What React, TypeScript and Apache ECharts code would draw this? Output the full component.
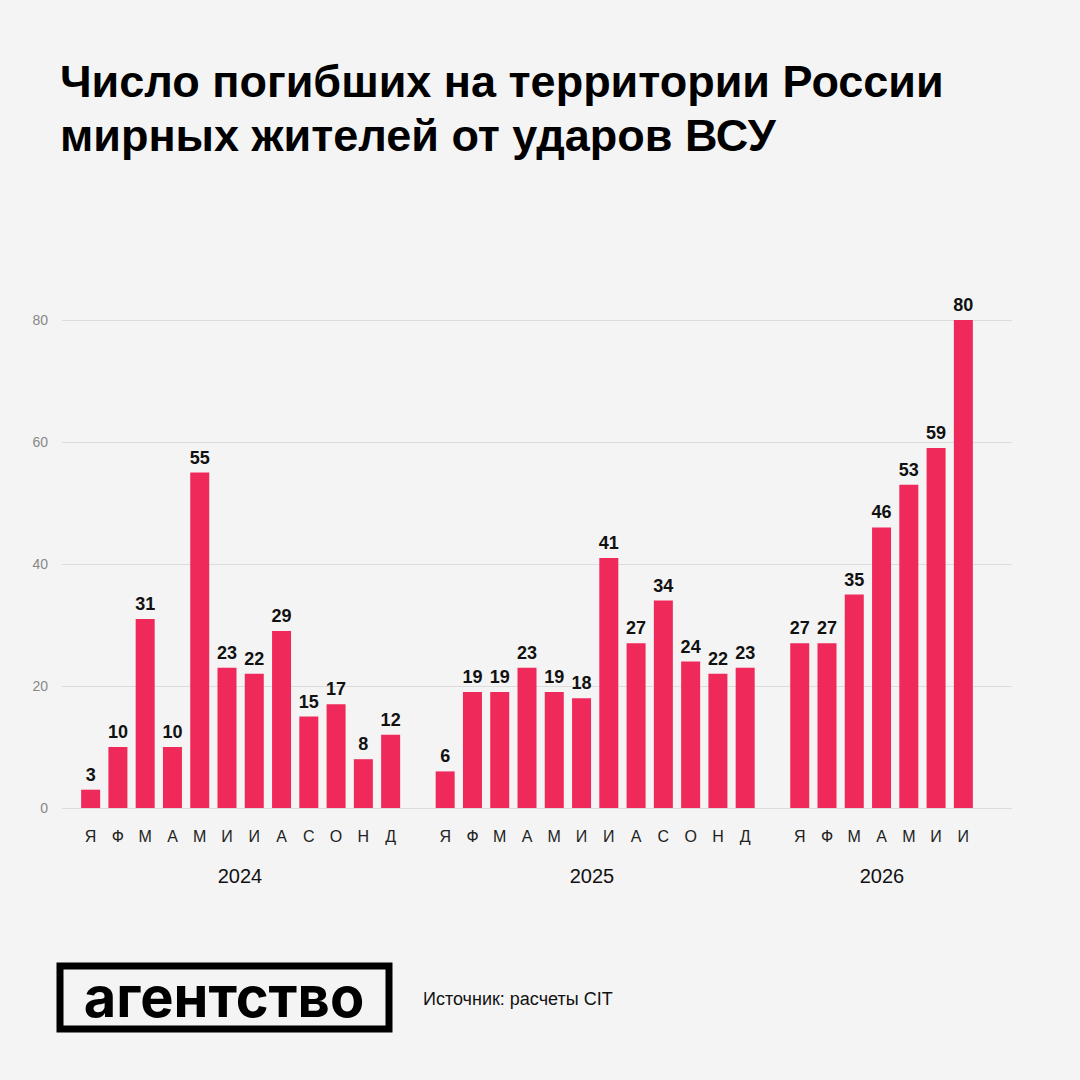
import { useEffect, useRef } from 'react';
import * as echarts from 'echarts';

const months = ['Я', 'Ф', 'М', 'А', 'М', 'И', 'И', 'А', 'С', 'О', 'Н', 'Д', '', 'Я', 'Ф', 'М', 'А', 'М', 'И', 'И', 'А', 'С', 'О', 'Н', 'Д', '', 'Я', 'Ф', 'М', 'А', 'М', 'И', 'И'];
const values = [3, 10, 31, 10, 55, 23, 22, 29, 15, 17, 8, 12, null, 6, 19, 19, 23, 19, 18, 41, 27, 34, 24, 22, 23, null, 27, 27, 35, 46, 53, 59, 80];
const years = ['2024', '2025', '2026'];
const yTicks = [0, 20, 40, 60, 80];

export default function App() {
  const ref = useRef<HTMLDivElement>(null);
  useEffect(() => {
    if (!ref.current) return;
    const chart = echarts.init(ref.current, null, { renderer: 'svg' });
    const font = '"Liberation Sans", Arial, sans-serif';
    const logoFont = 'Inter, "Noto Sans", sans-serif';
    chart.setOption({
      animation: false,
      backgroundColor: '#f4f4f4',
      textStyle: { fontFamily: font },
      grid: [
        { left: 62, right: 68, top: 320, bottom: 272 },
        { left: 77, width: 900, top: 320, bottom: 272 },
      ],
      xAxis: [
        { gridIndex: 0, type: 'value', show: false, min: 0, max: 1 },
        {
          gridIndex: 1, type: 'category', data: months,
          axisLine: { show: false }, axisTick: { show: false },
          axisLabel: { color: '#222', fontSize: 16, margin: 20, interval: 0, fontFamily: font },
        },
      ],
      yAxis: [
        {
          gridIndex: 0, type: 'value', min: 0, max: 80, interval: 20,
          axisLabel: { color: '#888', fontSize: 14, margin: 14, fontFamily: font, formatter: (v: number) => (yTicks.includes(v) ? String(v) : '') },
          splitLine: { lineStyle: { color: '#dcdcdc', width: 1 } },
          axisLine: { show: false }, axisTick: { show: false },
        },
        { gridIndex: 1, type: 'value', min: 0, max: 80, show: false, splitLine: { show: false } },
      ],
      series: [
        {
          type: 'bar', xAxisIndex: 1, yAxisIndex: 1, data: values, barWidth: 19,
          itemStyle: { color: '#ef2a5b' },
          label: { show: true, position: 'top', color: '#111', fontSize: 18, fontWeight: 'bold', distance: 6, fontFamily: font },
        },
      ],
      graphic: [
        { type: 'text', left: 60, top: 54, style: { text: 'Число погибших на территории России\nмирных жителей от ударов ВСУ', font: `bold 45px ${font}`, fill: '#000', lineHeight: 54 } },
        ...years.map((y, i) => ({
          type: 'text', x: [240, 592, 882][i], y: 866,
          style: { text: y, font: `20px ${font}`, fill: '#111', align: 'center' },
        })),
        { type: 'rect', shape: { x: 60, y: 966, width: 329, height: 63 }, style: { fill: 'none', stroke: '#000', lineWidth: 7 } },
        { type: 'text', x: 224, y: 997, style: { text: 'агентство', font: `bold 56px ${logoFont}`, fill: '#000', align: 'center', verticalAlign: 'middle' } },
        { type: 'text', x: 423, y: 990, style: { text: 'Источник: расчеты CIT', font: `18px ${font}`, fill: '#111' } },
      ],
    });
    return () => chart.dispose();
  }, []);
  return <div ref={ref} style={{ width: 1080, height: 1080, position: 'absolute', left: 0, top: 0 }} />;
}
